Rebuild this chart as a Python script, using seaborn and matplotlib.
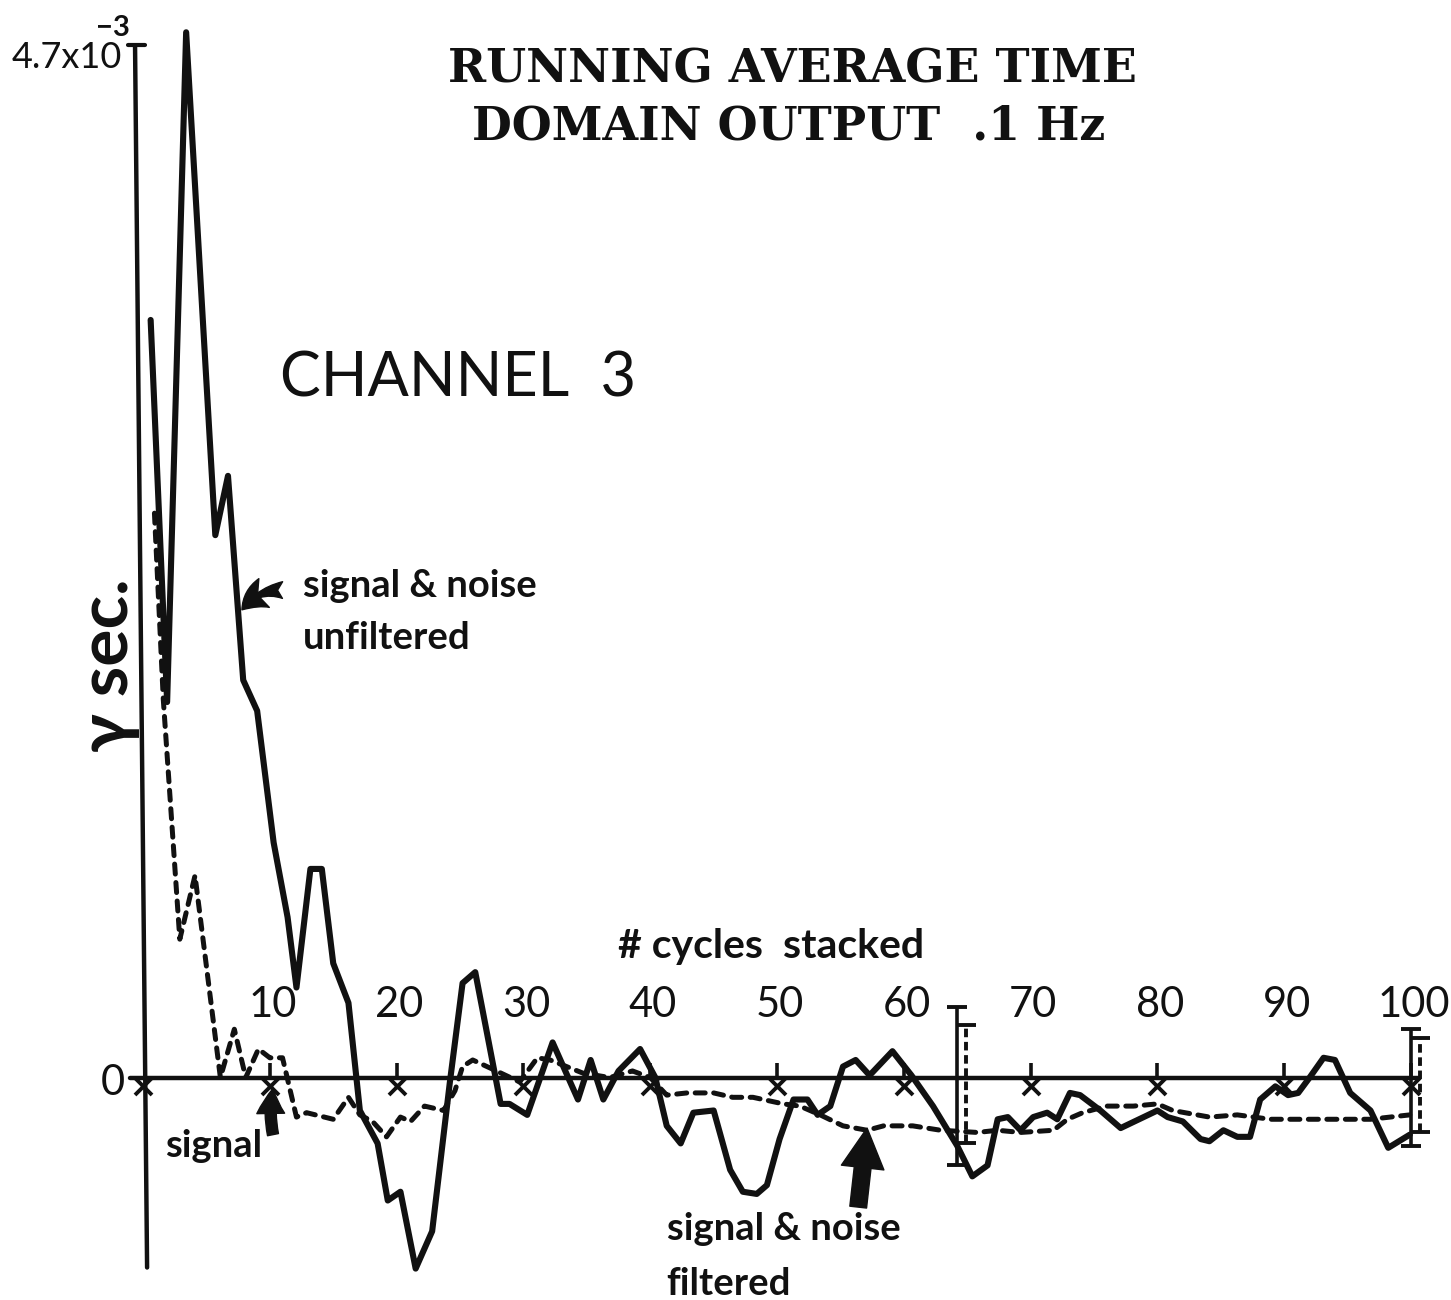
import matplotlib
matplotlib.use("Agg")
import matplotlib.pyplot as plt
import pandas as pd
import seaborn as sns

# Running-average output (units of 1e-3 s) versus number of cycles stacked
unf_cycles = [0.6, 1.9, 3.4, 5.7, 6.7, 7.9, 9.0, 10.3, 11.4, 12.1,
              13.2, 14.1, 15.0, 16.2, 17.1, 18.5, 19.3, 20.3, 21.5, 22.8,
              24.2, 25.2, 26.2, 28.2, 28.9, 30.3, 32.3, 34.3, 35.3, 36.3,
              37.5, 39.2, 40.4, 41.3, 42.4, 43.4, 45.0, 46.3, 47.3, 48.4,
              49.2, 50.2, 51.3, 52.4, 53.2, 54.2, 55.2, 56.2, 57.3, 59.1,
              60.6, 62.3, 64.2, 65.4, 66.6, 67.4, 68.2, 69.2, 70.2, 71.3,
              72.1, 73.1, 73.9, 75.5, 77.1, 80.0, 80.8, 82.0, 83.4, 84.1,
              85.2, 86.3, 87.3, 88.1, 89.3, 90.3, 91.1, 92.0, 93.1, 94.0,
              95.2, 96.8, 98.2, 99.9]
unf_values = [3.45, 1.71, 4.76, 2.47, 2.74, 1.81, 1.67, 1.07, 0.73, 0.41,
              0.95, 0.95, 0.52, 0.34, -0.15, -0.30, -0.56, -0.52, -0.87, -0.70,
              -0.02, 0.43, 0.48, -0.12, -0.12, -0.17, 0.16, -0.10, 0.08, -0.10,
              0.03, 0.13, 0.00, -0.22, -0.30, -0.16, -0.15, -0.42, -0.52, -0.53,
              -0.49, -0.28, -0.10, -0.10, -0.17, -0.13, 0.05, 0.08, 0.01, 0.12,
              0.01, -0.13, -0.31, -0.45, -0.40, -0.19, -0.18, -0.24, -0.18, -0.16,
              -0.19, -0.07, -0.08, -0.15, -0.23, -0.15, -0.18, -0.20, -0.28, -0.29,
              -0.24, -0.27, -0.27, -0.10, -0.04, -0.08, -0.07, 0.00, 0.09, 0.08,
              -0.07, -0.15, -0.32, -0.26]

flt_cycles = [0.9, 1.6, 2.9, 4.1, 6.1, 7.2, 8.1, 9.1, 10.0, 11.0,
              12.1, 12.9, 15.0, 16.2, 17.1, 18.1, 19.2, 20.3, 21.1, 22.2,
              23.7, 24.6, 25.2, 26.0, 27.5, 29.7, 31.1, 32.1, 34.7, 36.8,
              38.6, 40.0, 41.3, 42.9, 45.0, 46.5, 48.1, 50.5, 51.8, 53.4,
              55.2, 57.1, 58.4, 60.7, 62.9, 65.8, 67.4, 69.2, 71.8, 72.9,
              74.1, 76.0, 78.1, 80.0, 81.2, 84.1, 86.3, 88.9, 96.8, 99.9]
flt_values = [2.57, 1.72, 0.63, 0.92, 0.00, 0.22, 0.00, 0.13, 0.09, 0.09,
              -0.18, -0.16, -0.19, -0.09, -0.17, -0.20, -0.27, -0.18, -0.20, -0.13,
              -0.15, -0.06, 0.05, 0.08, 0.04, -0.02, 0.09, 0.08, 0.02, 0.00,
              0.03, 0.00, -0.08, -0.07, -0.07, -0.09, -0.09, -0.12, -0.13, -0.17,
              -0.22, -0.24, -0.22, -0.22, -0.24, -0.25, -0.24, -0.25, -0.24, -0.19,
              -0.16, -0.13, -0.13, -0.12, -0.15, -0.18, -0.17, -0.19, -0.19, -0.17]

# Spread bars (position, lower, upper)
bar_unf_cycles = [64.2, 100.0]
bar_unf_low = [-0.40, -0.31]
bar_unf_high = [0.32, 0.22]
bar_flt_cycles = [64.9, 100.7]
bar_flt_low = [-0.30, -0.25]
bar_flt_high = [0.24, 0.18]

tick_values = [10, 20, 30, 40, 50, 60, 70, 80, 90, 100]
tick_labels = ["10", "20", "30", "40", "50", "60", "70", "80", "90", "100"]
marker_values = [0, 10, 20, 30, 40, 50, 60, 70, 80, 90, 100]
y_top = 4.7
y_bottom = -0.865

sns.set_style("white")
plt.rcParams["font.family"] = ["Lato", "DejaVu Sans"]

fig = plt.figure(figsize=(14.51, 13.0), dpi=100)
ax = fig.add_axes([0, 0, 1, 1])
ax.set_xlim(-11.28, 103.15)
ax.set_ylim(-1.013, 4.907)
ax.axis("off")

ink = "#111111"

# hand-drawn axes
ax.plot([-0.63, 0.32], [y_top, y_bottom], color=ink, lw=3.2, solid_capstyle="round")
ax.plot([-1.18, 0.16], [y_top, y_top], color=ink, lw=3.0)
ax.plot([-1.0, 100.6], [0, 0], color=ink, lw=3.2)
ax.vlines(marker_values[1:], 0, 0.065, color=ink, lw=2.6)
ax.scatter(marker_values, [-0.038] * len(marker_values), marker="x", s=150,
           linewidths=2.8, color=ink, zorder=3)

# curves
df_unf = pd.DataFrame({"cycles": unf_cycles, "value": unf_values})
df_flt = pd.DataFrame({"cycles": flt_cycles, "value": flt_values})
sns.lineplot(data=df_unf, x="cycles", y="value", ax=ax, color=ink, lw=4.4,
             sort=False, estimator=None)
sns.lineplot(data=df_flt, x="cycles", y="value", ax=ax, color=ink, lw=3.6,
             sort=False, estimator=None)
dashed = ax.lines[-1]
dashed.set_dashes([2.0, 1.7])
dashed.set_dash_capstyle("round")
for ln in ax.lines[-2:]:
    ln.set_solid_joinstyle("round")
    ln.set_solid_capstyle("round")

# spread bars
for xc, lo, hi in zip(bar_unf_cycles, bar_unf_low, bar_unf_high):
    ax.errorbar([xc], [0], yerr=[[-lo], [hi]], fmt="none", ecolor=ink,
                elinewidth=2.6, capsize=7.5, capthick=2.8)
for xc, lo, hi in zip(bar_flt_cycles, bar_flt_low, bar_flt_high):
    eb = ax.errorbar([xc], [0], yerr=[[-lo], [hi]], fmt="none", ecolor=ink,
                     elinewidth=2.8, capsize=7.0, capthick=2.8)
    eb[2][0].set_linestyle((0, (2.2, 1.2)))

# tick numbers
for v, lab in zip(tick_values, tick_labels):
    ax.text(v + 0.2, 0.33, lab, ha="center", va="center", fontsize=30, color=ink)
ax.text(-1.42, -0.08, "0", ha="right", va="baseline", fontsize=30, color=ink)
ax.text(-1.66, 4.597, "4.7x10", ha="right", va="baseline", fontsize=26, color=ink)
ax.text(-2.37, 4.745, "\u22123", ha="center", va="baseline", fontsize=21,
        fontweight="bold", color=ink)

# titles and labels
ax.text(51.2, 4.533, "RUNNING AVERAGE TIME", ha="center", va="baseline",
        fontsize=33, fontweight="bold", family=["DejaVu Serif"], color=ink)
ax.text(50.9, 4.273, "DOMAIN OUTPUT  .1 Hz", ha="center", va="baseline",
        fontsize=33, fontweight="bold", family=["DejaVu Serif"], color=ink)
ax.text(24.8, 3.10, "CHANNEL  3", ha="center", va="baseline", fontsize=44, color=ink)
ax.text(-2.7, 1.878, "\u03b3 sec.", ha="center", va="center", rotation=90,
        fontsize=50, fontweight="bold", color=ink)
ax.text(49.5, 0.544, "# cycles  stacked", ha="center", va="baseline",
        fontsize=29.5, fontweight="bold", color=ink)

ax.text(12.6, 2.19, "signal & noise", ha="left", va="baseline", fontsize=27.5,
        fontweight="bold", color=ink)
ax.text(12.6, 1.95, "unfiltered", ha="left", va="baseline", fontsize=27.5,
        fontweight="bold", color=ink)
ax.text(1.7, -0.36, "signal", ha="left", va="baseline", fontsize=27.5,
        fontweight="bold", color=ink)
ax.text(41.3, -0.74, "signal & noise", ha="left", va="baseline", fontsize=27.5,
        fontweight="bold", color=ink)
ax.text(41.3, -0.99, "filtered", ha="left", va="baseline", fontsize=27.5,
        fontweight="bold", color=ink)

# pointer arrows
ax.annotate("", xy=(7.8, 2.13), xytext=(11.0, 2.22),
            arrowprops=dict(arrowstyle="fancy,head_length=1.0,head_width=1.1,tail_width=0.6",
                            connectionstyle="arc3,rad=0.25", color=ink,
                            shrinkA=0, shrinkB=0, mutation_scale=20))
ax.annotate("", xy=(10.25, -0.05), xytext=(10.25, -0.26),
            arrowprops=dict(arrowstyle="simple,head_length=0.9,head_width=1.0,tail_width=0.4",
                            connectionstyle="arc3,rad=-0.1", color=ink,
                            shrinkA=0, shrinkB=0, mutation_scale=20))
ax.annotate("", xy=(57.1, -0.23), xytext=(56.4, -0.59),
            arrowprops=dict(arrowstyle="simple,head_length=1.3,head_width=1.4,tail_width=0.55",
                            color=ink, shrinkA=0, shrinkB=0, mutation_scale=22))

fig.savefig("out.png", dpi=100, facecolor="white")
